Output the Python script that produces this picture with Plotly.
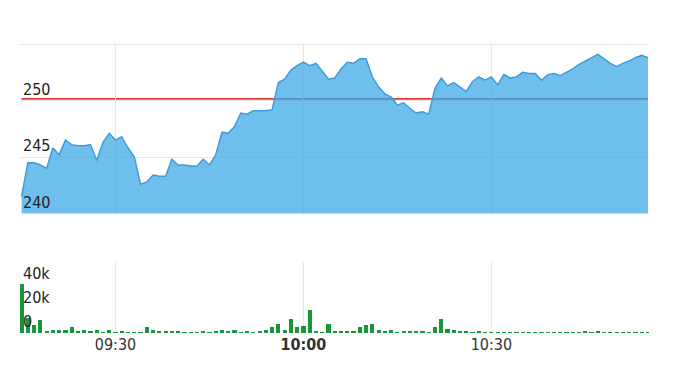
import pandas as pd
import plotly.graph_objects as go
from plotly.subplots import make_subplots

# ---- data ----
start_time = "2024-01-02 09:15"
n_minutes = 101

price = [241.5, 244.5, 244.5, 244.3, 244.0, 245.8, 245.2, 246.5, 246.1, 246.0,
         246.0, 246.1, 244.7, 246.3, 247.1, 246.5, 246.8, 245.8, 245.0, 242.6,
         242.8, 243.4, 243.3, 243.3, 244.8, 244.3, 244.3, 244.2, 244.2, 244.8,
         244.3, 245.2, 247.2, 247.1, 247.7, 248.9, 248.8, 249.1, 249.1, 249.1,
         249.2, 251.6, 251.9, 252.7, 253.1, 253.4, 253.1, 253.3, 252.6, 251.9,
         252.0, 252.8, 253.4, 253.3, 253.7, 253.7, 252.1, 251.2, 250.6, 250.3,
         249.6, 249.8, 249.3, 248.9, 249.0, 248.8, 251.1, 252.0, 251.3, 251.6,
         251.2, 250.8, 251.7, 252.1, 251.8, 252.1, 251.4, 252.3, 252.0, 252.1,
         252.5, 252.4, 252.4, 251.8, 252.3, 252.4, 252.2, 252.5, 252.8, 253.2,
         253.5, 253.8, 254.1, 253.7, 253.3, 253.0, 253.3, 253.5, 253.8, 254.0,
         253.8]

volume_k = [41, 13, 7, 11, 2, 3, 3, 3, 5, 2,
            3, 2, 2.5, 1.5, 2.5, 1, 2, 1, 1, 1,
            5, 2.5, 2, 2, 2, 2, 1, 1, 1, 2,
            1, 2, 3, 2, 3, 1, 2, 1, 2, 3,
            5, 8, 3, 12, 5, 6, 19, 2, 1, 8,
            2, 2, 2, 2, 5, 7, 7.5, 3, 2, 3,
            1.5, 2, 2, 2, 2, 1.5, 5, 12, 4, 3,
            2, 2, 1, 2, 1, 1, 1.5, 1, 1.5, 1,
            1.5, 1, 1.5, 1, 1.5, 1, 1, 1.5, 1.5, 1,
            2, 1, 2, 1, 1.5, 1, 1.5, 1, 1.5, 1.5,
            1.5]

prev_close = 250.15

x_tick_vals = ["2024-01-02 09:30", "2024-01-02 10:00", "2024-01-02 10:30"]
x_tick_text = ["09:30", "<b>10:00</b>", "10:30"]
price_ticks = [240, 245, 250, 255]
price_tick_text = ["240", "245", "250", ""]
vol_ticks = [0, 20000, 40000]
vol_tick_text = ["0", "20k", "40k"]

times = pd.date_range(start_time, periods=n_minutes, freq="1min")
volume = [v * 1000 for v in volume_k]

FONT = "DejaVu Sans Condensed, DejaVu Sans, sans-serif"
GRID = "#e6e6e6"

fig = make_subplots(rows=2, cols=1, shared_xaxes=True, vertical_spacing=0.0)

fig.add_trace(go.Scatter(
    x=times, y=price, mode="lines",
    line=dict(color="#3f9bd8", width=1.5),
    fill="tozeroy", fillcolor="rgba(60,168,229,0.74)",
    hoverinfo="skip", showlegend=False), row=1, col=1)

fig.add_trace(go.Bar(
    x=times, y=volume, marker=dict(color="#16973a", line=dict(width=0)),
    width=40000, hoverinfo="skip", showlegend=False), row=2, col=1)

fig.add_shape(type="line", xref="x", yref="y",
              x0=times[0], x1=times[-1], y0=prev_close, y1=prev_close,
              line=dict(color="#d63a3a", width=1.6), layer="below")

xrange = [pd.Timestamp("2024-01-02 09:14:45"), pd.Timestamp("2024-01-02 10:55:10")]

fig.update_layout(
    width=675, height=384,
    margin=dict(l=20, r=26, t=43, b=51),
    paper_bgcolor="white", plot_bgcolor="white",
    font=dict(family=FONT, size=16, color="#333333"),
    bargap=0,
)

fig.update_xaxes(range=xrange, tickvals=x_tick_vals, showgrid=True, gridcolor=GRID,
                 gridwidth=1, zeroline=False, showline=False, ticks="")
fig.update_xaxes(showticklabels=False, row=1, col=1)
fig.update_xaxes(ticktext=x_tick_text, showticklabels=True,
                 tickfont=dict(size=16, color="#333333"), row=2, col=1)

fig.update_yaxes(domain=[0.412, 1.0], range=[240, 255.1], tickvals=price_ticks,
                 ticktext=price_tick_text, ticklabelposition="inside top",
                 showgrid=True, gridcolor=GRID, zeroline=False, showline=False,
                 ticks="", tickfont=dict(size=16, color="#222222"), row=1, col=1)
fig.update_yaxes(domain=[0.0, 0.246], range=[0, 59000], tickvals=vol_ticks,
                 ticktext=vol_tick_text, ticklabelposition="inside top",
                 showgrid=False, zeroline=False, showline=False, ticks="",
                 tickfont=dict(size=16, color="#222222"), row=2, col=1)

fig.write_html("out.html")
